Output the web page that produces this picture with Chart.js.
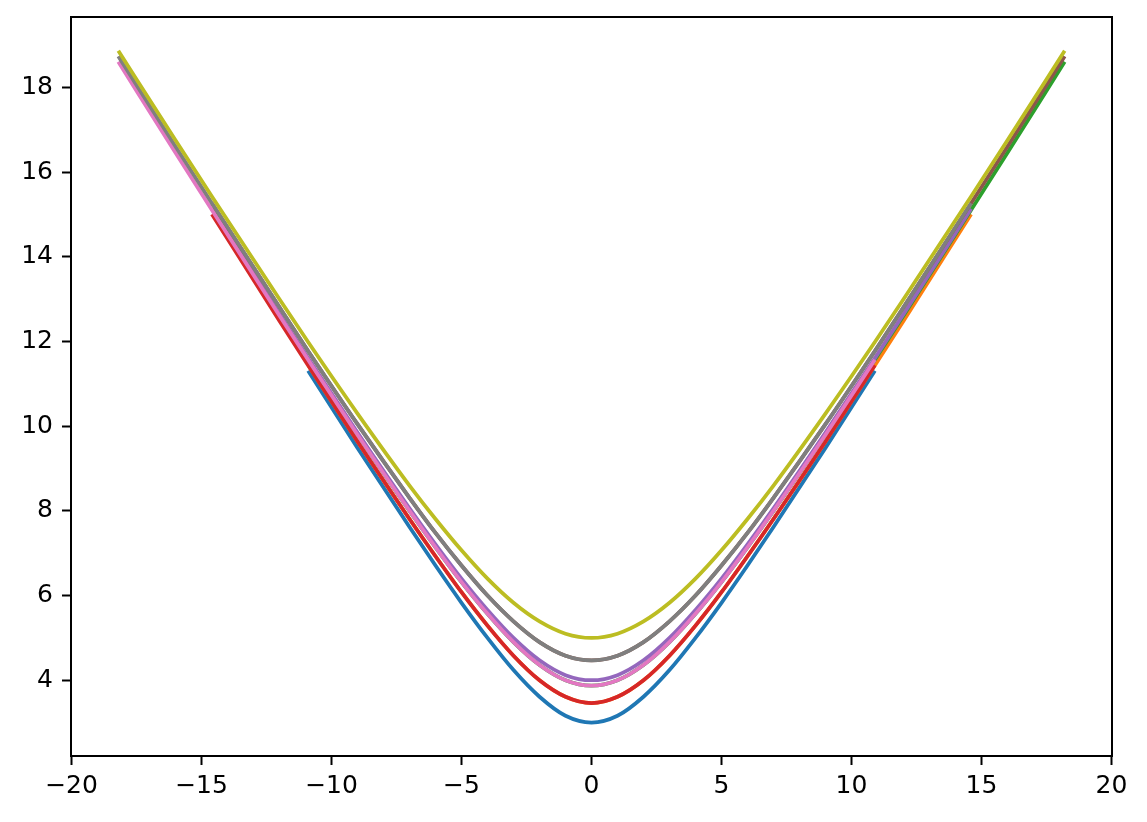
<!DOCTYPE html>
<html>
<head>
<meta charset="utf-8">
<script src="https://cdn.jsdelivr.net/npm/chart.js@4"></script>
<style>
  html, body { margin: 0; padding: 0; background: #fff; }
  canvas { display: block; }
</style>
</head>
<body>
<canvas id="myChart" width="1147" height="822" style="width:1147px;height:822px"></canvas>
<script>
const xValues = [-18.2, -16, -14.6, -12, -10.9, -9, -7, -6, -5, -4, -3, -2, -1, 0,
                 1, 2, 3, 4, 5, 6, 7, 9, 10.9, 12, 14.6, 16, 18.2]

// y values per curve (null = curve not drawn there)
const blue   = [null, null, null, null, 11.31, 9.49, 7.62, 6.71, 5.83, 5.00, 4.24, 3.61, 3.16, 3.00,
                3.16, 3.61, 4.24, 5.00, 5.83, 6.71, 7.62, 9.49, 11.31, null, null, null, null]
const orange = [null, null, null, null, 11.44, 9.64, 7.81, 6.93, 6.08, 5.29, 4.58, 4.00, 3.61, 3.46,
                3.61, 4.00, 4.58, 5.29, 6.08, 6.93, 7.81, 9.64, 11.44, 12.49, 15.01, null, null]
const green  = [null, null, null, null, 11.57, 9.80, 8.00, 7.14, 6.32, 5.57, 4.90, 4.36, 4.00, 3.87,
                4.00, 4.36, 4.90, 5.57, 6.32, 7.14, 8.00, 9.80, 11.57, 12.61, 15.11, 16.46, 18.61]
const red    = [null, null, 15.01, 12.49, 11.44, 9.64, 7.81, 6.93, 6.08, 5.29, 4.58, 4.00, 3.61, 3.46,
                3.61, 4.00, 4.58, 5.29, 6.08, 6.93, 7.81, 9.64, 11.44, null, null, null, null]
const purple = [null, null, 15.14, 12.65, 11.61, 9.85, 8.06, 7.21, 6.40, 5.66, 5.00, 4.47, 4.12, 4.00,
                4.12, 4.47, 5.00, 5.66, 6.40, 7.21, 8.06, 9.85, 11.61, 12.65, 15.14, null, null]
const brown  = [null, null, 15.27, 12.81, 11.78, 10.05, 8.31, 7.48, 6.71, 6.00, 5.39, 4.90, 4.58, 4.47,
                4.58, 4.90, 5.39, 6.00, 6.71, 7.48, 8.31, 10.05, 11.78, 12.81, 15.27, 16.61, 18.74]
const pink   = [18.61, 16.46, 15.11, 12.61, 11.57, 9.80, 8.00, 7.14, 6.32, 5.57, 4.90, 4.36, 4.00, 3.87,
                4.00, 4.36, 4.90, 5.57, 6.32, 7.14, 8.00, 9.80, 11.57, null, null, null, null]
const gray   = [18.74, 16.61, 15.27, 12.81, 11.78, 10.05, 8.31, 7.48, 6.71, 6.00, 5.39, 4.90, 4.58, 4.47,
                4.58, 4.90, 5.39, 6.00, 6.71, 7.48, 8.31, 10.05, 11.78, 12.81, 15.27, null, null]
const olive  = [18.87, 16.76, 15.43, 13.00, 11.99, 10.30, 8.60, 7.81, 7.07, 6.40, 5.83, 5.39, 5.10, 5.00,
                5.10, 5.39, 5.83, 6.40, 7.07, 7.81, 8.60, 10.30, 11.99, 13.00, 15.43, 16.76, 18.87]

const xTicks = [-20, -15, -10, -5, 0, 5, 10, 15, 20]
const yTicks = [4, 6, 8, 10, 12, 14, 16, 18]

const series = [blue, orange, green, red, purple, brown, pink, gray, olive]
const colors = ['#1f77b4', '#ff7f0e', '#2ca02c', '#d62728', '#9467bd',
                '#8c564b', '#e377c2', '#7f7f7f', '#bcbd22']

const fmt = v => (v < 0 ? '\u2212' : '') + Math.abs(v)

// box around the plot area, like the axes frame
const frame = {
    id: 'frame',
    afterDatasetsDraw(chart) {
        const a = chart.chartArea
        const c = chart.ctx
        c.save()
        c.strokeStyle = '#000'
        c.lineWidth = 2
        c.strokeRect(a.left, a.top, a.right - a.left, a.bottom - a.top)
        c.restore()
    }
}

const ctx = document.getElementById('myChart')

new Chart(ctx, {
    type: 'scatter',
    plugins: [frame],
    data: {
        datasets: series.map((ys, i) => ({
            data: xValues.map((x, j) => ({ x: x, y: ys[j] })).filter(p => p.y !== null),
            showLine: true,
            borderColor: colors[i],
            backgroundColor: colors[i],
            borderWidth: 3.75,
            pointRadius: 0,
            cubicInterpolationMode: 'monotone',
            order: series.length - i,
        }))
    },
    options: {
        responsive: false,
        animation: false,
        events: [],
        layout: { padding: { left: 0, top: 17, right: 35, bottom: 0 } },
        plugins: {
            legend: { display: false },
            tooltip: { enabled: false },
        },
        scales: {
            x: {
                type: 'linear',
                min: -20.02,
                max: 20.02,
                afterBuildTicks: s => { s.ticks = xTicks.map(v => ({ value: v })) },
                afterFit: s => { s.height = 66; s.paddingLeft = 0; s.paddingRight = 0 },
                border: { display: false },
                grid: { drawOnChartArea: false, drawTicks: true, tickLength: 9, tickWidth: 2, tickColor: '#000' },
                ticks: {
                    color: '#000',
                    padding: 6,
                    maxRotation: 0,
                    font: { family: 'DejaVu Sans', size: 25 },
                    callback: fmt,
                },
            },
            y: {
                type: 'linear',
                min: 2.21,
                max: 19.67,
                afterBuildTicks: s => { s.ticks = yTicks.map(v => ({ value: v })) },
                afterFit: s => { s.width = 71; s.paddingTop = 0; s.paddingBottom = 0 },
                border: { display: false },
                grid: { drawOnChartArea: false, drawTicks: true, tickLength: 9, tickWidth: 2, tickColor: '#000' },
                ticks: {
                    color: '#000',
                    padding: 9,
                    font: { family: 'DejaVu Sans', size: 25 },
                    callback: fmt,
                },
            },
        },
    },
})
</script>
</body>
</html>
